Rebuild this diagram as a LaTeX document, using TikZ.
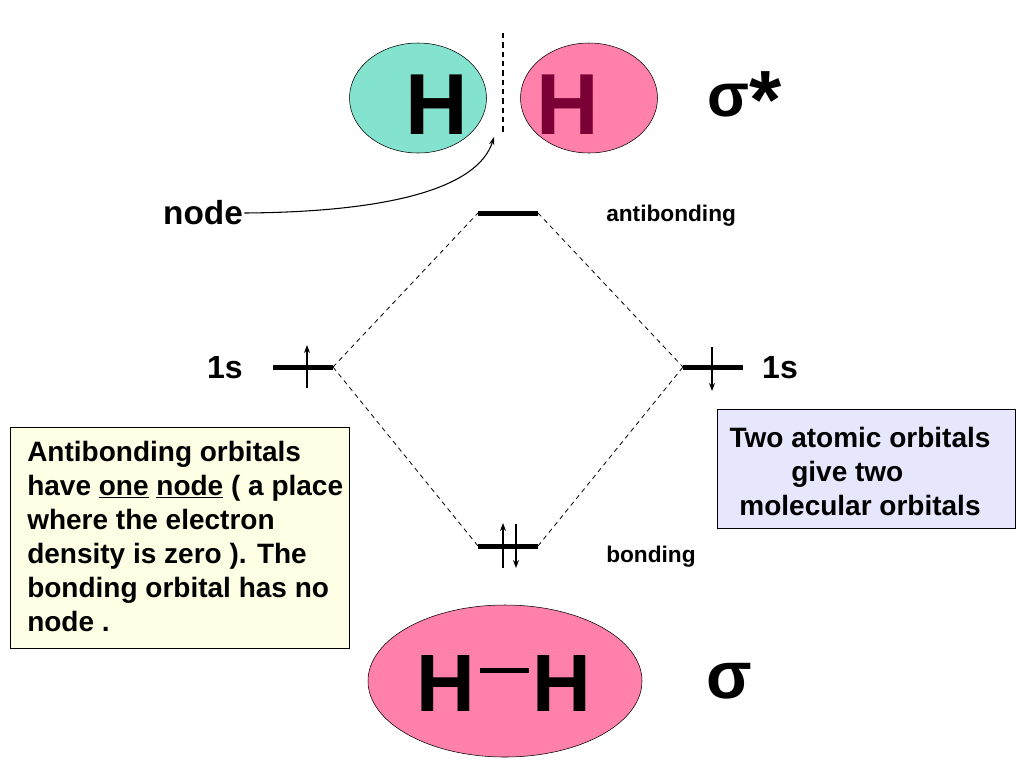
\documentclass[tikz,border=0pt]{standalone}
\usepackage{fontspec}
\setmainfont{Liberation Sans}
\usepackage{tikz}
\usetikzlibrary{shapes.geometric,arrows.meta,positioning}

\definecolor{hcyan}{RGB}{132,227,206}
\definecolor{hpink}{RGB}{255,128,170}
\definecolor{hmaroon}{RGB}{122,0,53}
\definecolor{noteyellow}{RGB}{255,255,230}
\definecolor{notelilac}{RGB}{230,230,252}

\tikzset{
	level/.style={line width=3.75pt},
	link/.style={dashed, line width=0.6pt, dash pattern=on 3.5pt off 3pt},
	spin/.style={-{Stealth[length=6pt,width=4.5pt]}, line width=0.8pt},
	orb/.style={ellipse, draw, inner sep=0pt},
	bigH/.style={font=\fontsize{65}{65}\selectfont\bfseries, inner sep=0pt},
	lbl/.style={font=\fontsize{17}{20}\selectfont\bfseries, inner sep=0pt},
	notebox/.style={draw, thin, inner sep=0pt, anchor=north west}
}

\begin{document}
\begin{tikzpicture}[x=0.75pt, y=-0.75pt]
	\useasboundingbox (0,0) rectangle (1024,768);

	% Antibonding picture (top)
	\node[orb, fill=hcyan, minimum width=102.75pt, minimum height=82.5pt] (hleft) at (418,98) {};
	\node[orb, fill=hpink, minimum width=102.75pt, minimum height=82.5pt] (hright) at (589,98) {};
	\node[bigH] (hl) at (437,105) {H};
	\node[bigH, text=hmaroon] (hr) at (568,105) {H};
	%node plane
	\coordinate (planetop) at (503,33);
	\coordinate (planebot) at (503,135);
	\draw[dashed, line width=0.9pt, dash pattern=on 4pt off 3pt] (planetop) -- (planebot);
	\node[font=\fontsize{46}{46}\selectfont\bfseries, inner sep=0pt] (sigstar) at (745,100) {σ\raisebox{-9pt}{\fontsize{62}{62}\selectfont *}};

	% Label and arrow to the node
	\node[font=\fontsize{25}{25}\selectfont\bfseries, inner sep=1pt] (lblnode) at (203,213) {node};
	\coordinate (tip) at (494,137);
	\draw[-{Stealth[length=6pt,width=4pt]}, line width=0.8pt] (lblnode.east) .. controls (390,212) and (478,188) .. (tip);

	% Energy levels
	\coordinate (abl) at (478,213);
	\coordinate (abr) at (538,213);
	\coordinate (a1l) at (273,367);
	\coordinate (a1r) at (333,367);
	\coordinate (a2l) at (683,367);
	\coordinate (a2r) at (743,367);
	\coordinate (bl) at (478,546);
	\coordinate (br) at (538,546);
	\draw[level] (abl) -- (abr);
	\draw[level] (a1l) -- (a1r);
	\draw[level] (a2l) -- (a2r);
	\draw[level] (bl) -- (br);

	% Correlation lines
	\draw[link] (a1r) -- (abl);
	\draw[link] (abr) -- (a2l);
	\draw[link] (a1r) -- (bl);
	\draw[link] (br) -- (a2l);

	% Electrons
	\draw[spin] (307,388) -- (307,345);
	\draw[spin] (712,347) -- (712,391);
	\draw[spin] (503,568) -- (503,523);
	\draw[spin] (516,524) -- (516,568);

	% Level labels
	\node[lbl, anchor=west] (lblanti) at (606,216) {antibonding};
	\node[lbl, anchor=west] (lblbond) at (606,557) {bonding};
	\node[font=\fontsize{24}{24}\selectfont\bfseries, inner sep=0pt] (lbls1) at (225,368) {1s};
	\node[font=\fontsize{24}{24}\selectfont\bfseries, inner sep=0pt] (lbls2) at (780,368) {1s};

	% Note boxes
	\node[notebox, fill=noteyellow, minimum width=254.25pt, minimum height=165.75pt] (antibox) at (10,427) {};
	\node[anchor=north west, align=left, inner sep=0pt, font=\fontsize{21}{25.5}\selectfont\bfseries] (antitext) at (27,441) {Antibonding orbitals\\ have \underline{one} \underline{node} ( a place\\ where the electron\\ density is zero ). The\\ bonding orbital has no\\ node .};
	\node[notebox, fill=notelilac, minimum width=223.5pt, minimum height=89.25pt] (twobox) at (717,409) {};
	\node[align=center, inner sep=0pt, font=\fontsize{21}{25.5}\selectfont\bfseries] (twotext) at (860,471) {Two atomic orbitals\\ give two\rule{19pt}{0pt}\\ molecular orbitals};

	% Bonding picture (bottom)
	\node[orb, fill=hpink, minimum width=205.5pt, minimum height=114pt] (hbond) at (505,681) {};
	\node[font=\fontsize{61}{61}\selectfont\bfseries, inner sep=0pt] (hh) at (504,684) {H\kern3pt\rule[28.9pt]{36.75pt}{3.75pt}\kern3pt H};
	\node[font=\fontsize{50}{50}\selectfont\bfseries, inner sep=0pt] (sig) at (729,681) {σ};
\end{tikzpicture}
\end{document}
